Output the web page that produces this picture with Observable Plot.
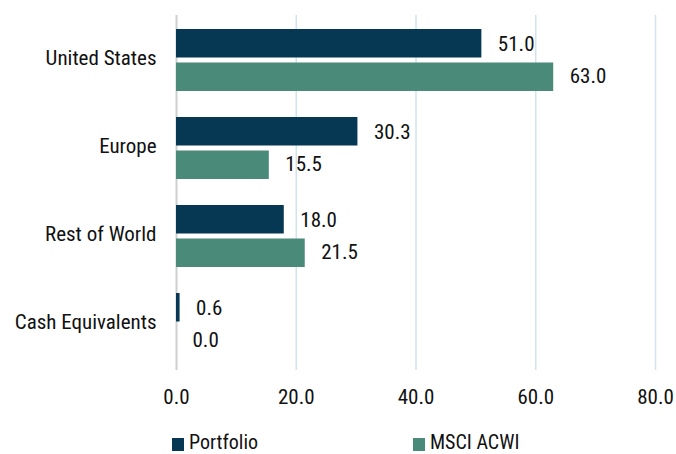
<!DOCTYPE html>
<html>
<head>
<meta charset="utf-8">
<script src="https://cdn.jsdelivr.net/npm/d3@7"></script>
<script src="https://cdn.jsdelivr.net/npm/@observablehq/plot@0.6"></script>
<style>
  body { margin: 0; background: #fff; font-family: "Roboto Condensed", "Liberation Sans Narrow", Roboto, sans-serif; }
  #wrap { position: relative; width: 676px; height: 454px; }
  .legend { position: absolute; top: 432px; left: 0; width: 676px; height: 21px; font-size: 20px; line-height: 21px; color: #111; }
  .legend .item { position: absolute; top: 0; display: flex; align-items: center; height: 21px; }
  .legend .sw { width: 12px; height: 13px; margin-right: 5px; margin-top: 3px; }
</style>
</head>
<body>
<div id="wrap"><div id="chart"></div><div class="legend" id="legend"></div></div>
<script>
const categories = ["United States", "Europe", "Rest of World", "Cash Equivalents"];
const series = ["Portfolio", "MSCI ACWI"];
const portfolio = [51.0, 30.3, 18.0, 0.6];
const msci = [63.0, 15.5, 21.5, 0.0];
const xTicks = [0, 20, 40, 60, 80];
const colors = ["#063854", "#4a8a78"];

const pData = categories.map((c, i) => ({category: c, value: portfolio[i], series: series[0]}));
const mData = categories.map((c, i) => ({category: c, value: msci[i], series: series[1]}));

const font = '"Roboto Condensed", "Liberation Sans Narrow", Roboto, sans-serif';
const fs = 21;

const chart = Plot.plot({
  width: 676,
  height: 420,
  marginTop: 15,
  marginBottom: 50,
  marginLeft: 176,
  marginRight: 21,
  style: {fontFamily: font, fontSize: fs + "px", color: "#111", background: "#fff"},
  x: {domain: [0, 80], axis: null},
  y: {domain: categories, paddingInner: 0.29, paddingOuter: 0.14, axis: null},
  marks: [
    Plot.ruleX(xTicks.filter(d => d > 0), {stroke: "#d3e3ec", strokeWidth: 1.5}),
    Plot.ruleX([0], {stroke: "#cfcfcf", strokeWidth: 2}),
    Plot.barX(pData, {y: "category", x: "value", fill: colors[0], insetBottom: 33.5}),
    Plot.barX(mData, {y: "category", x: "value", fill: colors[1], insetTop: 33.5}),
    Plot.text(pData, {y: "category", x: "value", text: d => d.value.toFixed(1), dx: 16, dy: -16, textAnchor: "start", fill: "#111", fontSize: fs}),
    Plot.text(mData, {y: "category", x: "value", text: d => d.value.toFixed(1), dx: 16, dy: 16, textAnchor: "start", fill: "#111", fontSize: fs}),
    Plot.axisY({tickSize: 0, tickPadding: 20, dy: -2, label: null, fontSize: fs, fill: "#111"}),
    Plot.axisX(xTicks, {tickSize: 0, tickPadding: 19, label: null, tickFormat: d => d.toFixed(1), fontSize: fs, fill: "#111"})
  ]
});
document.getElementById("chart").appendChild(chart);

const legend = document.getElementById("legend");
const lefts = [172, 413];
series.forEach((s, i) => {
  const it = document.createElement("div");
  it.className = "item";
  it.style.left = lefts[i] + "px";
  it.innerHTML = `<span class="sw" style="background:${colors[i]}"></span><span>${s}</span>`;
  legend.appendChild(it);
});
</script>
</body>
</html>
